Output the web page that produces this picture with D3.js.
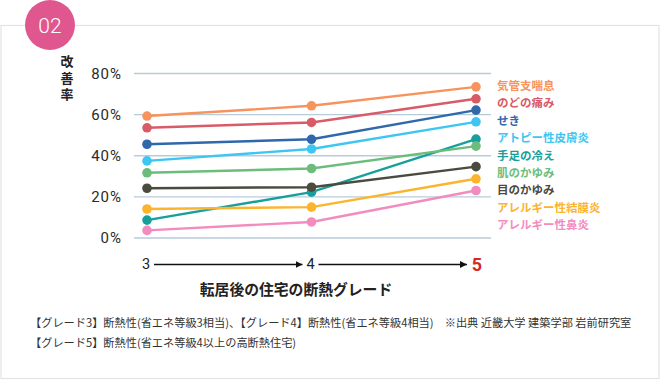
<!DOCTYPE html>
<html><head><meta charset="utf-8">
<script src="https://cdn.jsdelivr.net/npm/d3@7"></script>
<style>
html,body{margin:0;padding:0;background:#fff;}
svg{display:block;font-family:"Noto Sans CJK JP","Noto Sans",sans-serif;}
</style></head>
<body><svg id="c" width="660" height="380"></svg>
<script>
const grades = [3, 4, 5];
const gradeLabels = ["3", "4", "5"];
const seriesNames = ["気管支喘息","のどの痛み","せき","アトピー性皮膚炎","手足の冷え","肌のかゆみ","目のかゆみ","アレルギー性結膜炎","アレルギー性鼻炎"];
const seriesColors = ["#f7935c","#d95b68","#2f68ab","#3ec6f2","#17a09b","#6cbd7c","#4b4a3e","#fbb42c","#f28cbf"];
const v_kikanshi = [59.3, 64.3, 73.5];
const v_nodo = [53.6, 56.2, 67.7];
const v_seki = [45.6, 48.0, 62.2];
const v_atopy = [37.5, 43.3, 56.5];
const v_teashi = [8.7, 22.3, 48.1];
const v_hada = [31.7, 33.8, 44.7];
const v_me = [24.2, 24.7, 34.7];
const v_ketsumaku = [14.1, 15.0, 28.8];
const v_bien = [3.7, 7.8, 23.1];
const seriesValues = [v_kikanshi, v_nodo, v_seki, v_atopy, v_teashi, v_hada, v_me, v_ketsumaku, v_bien];
const yTicks = [0, 20, 40, 60, 80];

const svg = d3.select("#c");

// panel border
svg.append("rect").attr("x",1).attr("y",25.5).attr("width",658).attr("height",353)
  .attr("fill","#fff").attr("stroke","#e3e3e3").attr("stroke-width",1.2);

// badge
svg.append("circle").attr("cx",50).attr("cy",25).attr("r",25).attr("fill","#e0578f");
svg.append("text").attr("x",50).attr("y",26).attr("text-anchor","middle").attr("dominant-baseline","central")
  .attr("fill","#fff").attr("font-size",21).attr("font-weight",300).attr("font-family","Roboto, 'Noto Sans', sans-serif").text("02");

const x = d3.scaleLinear().domain([3,5]).range([147,476]);
const y = d3.scaleLinear().domain([0,80]).range([238,73.5]);

// grid
const yAxis = d3.axisLeft(y).tickValues(yTicks).tickFormat(d => d + "%").tickSize(0).tickPadding(12);
const gy = svg.append("g").attr("transform","translate(122,0)").call(yAxis);
gy.select(".domain").remove();
gy.selectAll("text").attr("font-size",15).attr("fill","#2a2a2a").attr("font-family","Roboto, 'Noto Sans', sans-serif")
  .attr("font-weight",400).attr("letter-spacing",1).attr("x",0).attr("text-anchor","end");
svg.append("g").selectAll("line").data(yTicks).join("line")
  .attr("x1",134).attr("x2",491).attr("y1",d=>y(d)).attr("y2",d=>y(d))
  .attr("stroke","#b7cbd8").attr("stroke-width",1.3);

// y title vertical (single text, vertical writing)
svg.append("text").attr("x",67).attr("y",55)
  .style("writing-mode","vertical-rl").attr("letter-spacing",3.5)
  .attr("font-size",13).attr("font-weight",700).attr("fill","#222").text("改善率");

// lines
const line = d3.line().x((d,i)=>x(grades[i])).y(d=>y(d));
seriesValues.forEach((vals, k) => {
  svg.append("path").attr("d", line(vals)).attr("fill","none").attr("stroke",seriesColors[k]).attr("stroke-width",2.4);
});
seriesValues.forEach((vals, k) => {
  svg.append("g").selectAll("circle").data(vals).join("circle")
    .attr("cx",(d,i)=>x(grades[i])).attr("cy",d=>y(d)).attr("r",4.8).attr("fill",seriesColors[k]);
});

// legend
svg.append("g").selectAll("text").data(seriesNames).join("text")
  .attr("x",497).attr("y",(d,i)=>85 + i*17.4).attr("dominant-baseline","central")
  .attr("font-size",11.5).attr("font-weight",700).attr("fill",(d,i)=>seriesColors[i]).text(d=>d);

// bottom grade axis with arrows
const defs = svg.append("defs");
defs.append("marker").attr("id","arr").attr("viewBox","0 0 10 10").attr("refX",10).attr("refY",5)
  .attr("markerWidth",7).attr("markerHeight",7).attr("markerUnits","userSpaceOnUse").attr("orient","auto")
  .append("path").attr("d","M0,0L10,5L0,10Z").attr("fill","#111");
const ay = 264.5;
const gx = svg.append("g");
gx.selectAll("text").data(grades).join("text")
  .attr("x",(d,i)=> i===2 ? x(d)+1 : x(d)-1).attr("y",ay).attr("dominant-baseline","central").attr("text-anchor","middle")
  .attr("font-family","Roboto, 'Noto Sans', sans-serif")
  .attr("font-size",(d,i)=> i===2 ? 18 : 14.5).attr("font-weight",(d,i)=> i===2 ? 700 : 400)
  .attr("fill",(d,i)=> i===2 ? "#d42a1f" : "#222").text((d,i)=>gradeLabels[i]);
const segs = [[x(3)+7, x(4)-9], [x(4)+7, x(5)-9]];
gx.selectAll("line").data(segs).join("line")
  .attr("x1",d=>d[0]).attr("x2",d=>d[1]).attr("y1",ay).attr("y2",ay)
  .attr("stroke","#111").attr("stroke-width",1.6).attr("marker-end","url(#arr)");

svg.append("text").attr("x",296).attr("y",288).attr("dominant-baseline","central").attr("text-anchor","middle")
  .attr("font-size",14.8).attr("font-weight",700).attr("fill","#222").text("転居後の住宅の断熱グレード");

// footnotes
const notes = ["【グレード3】断熱性(省エネ等級3相当)、【グレード4】断熱性(省エネ等級4相当)　※出典 近畿大学 建築学部 岩前研究室",
               "【グレード5】断熱性(省エネ等級4以上の高断熱住宅)"];
svg.append("g").selectAll("text").data(notes).join("text")
  .attr("x",30).attr("y",(d,i)=>322 + i*20).attr("dominant-baseline","central")
  .attr("font-size",11.2).attr("fill","#333").text(d=>d);
</script></body></html>
